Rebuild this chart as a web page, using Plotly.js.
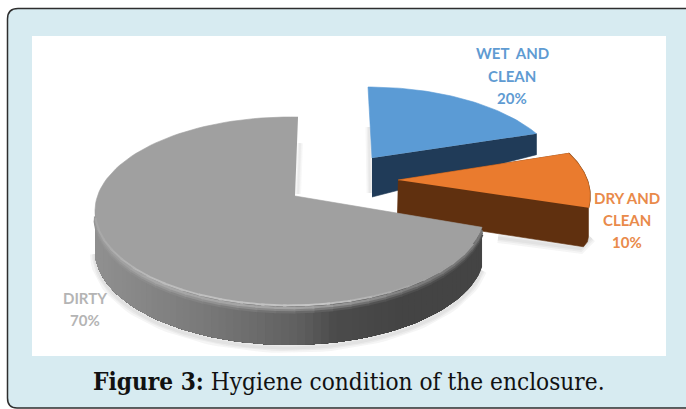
<!DOCTYPE html>
<html><head><meta charset="utf-8">
<script src="https://cdn.plot.ly/plotly-3.0.1.min.js"></script>
<style>html,body{margin:0;padding:0;background:#fff;overflow:hidden}#chart{width:686px;height:409px}
.scatterlayer{filter:blur(.45px)}</style></head>
<body><div id="chart"></div>
<script>
// ---- data ----
const categories = ["WET AND", "DRY AND", "DIRTY"];
const categoryLine2 = ["CLEAN", "CLEAN", ""];
const values = [20, 10, 70];
const faceColors = ["#5b9bd5", "#ea7b2e", "#a0a0a0"];
const wallColors = ["#203b58", "#60300f", "#5f5f5f"];
const labelColors = ["#5f9bd2", "#e98a4a", "#b4b4b4"];
const caption = "<b>Figure 3:</b> Hygiene condition of the enclosure.";

// ---- projection of each exploded slice (geometry, not data) ----
const RX = 195, RY = 94;
const geom = [
  {cx:368, cy:181, apex:[372,158], start:0,   warp:0.83, depth:39},
  {cx:395, cy:196, apex:[398,180], start:63,  warp:0.95, depth:38},
  {cx:290, cy:211, apex:[295,196], start:100, warp:1.0411, depth:40}
];
const labelPos = [[512,[53,76,98]],[627,[198,220,242]],[85,[298,320]]];

const rad = d => d*Math.PI/180;
const px = (g,a) => g.cx + RX*Math.sin(rad(a));
const py = (g,a) => g.cy - RY*Math.cos(rad(a));
const span = i => values[i]*3.6*geom[i].warp;
function arc(g,a0,a1,dy=0,n=60){const X=[],Y=[];for(let k=0;k<=n;k++){const a=a0+(a1-a0)*k/n;X.push(px(g,a));Y.push(py(g,a)+dy);}return [X,Y];}

const hex = c => [1,3,5].map(i=>parseInt(c.substr(i,2),16));
const mix = (a,b,t) => {const A=hex(a),B=hex(b);return "#"+A.map((v,i)=>Math.round(v+(B[i]-v)*t).toString(16).padStart(2,"0")).join("");};
function ramp(stops,x){if(x<=stops[0][0])return stops[0][1];for(let i=1;i<stops.length;i++){if(x<=stops[i][0]){const p=stops[i-1],q=stops[i];return mix(p[1],q[1],(x-p[0])/(q[0]-p[0]));}}return stops[stops.length-1][1];}

const traces=[];
function poly(X,Y,fill,lw){traces.push({type:"scatter",mode:"lines",x:X,y:Y,fill:"toself",fillcolor:fill,line:{color:fill,width:lw===undefined?0.6:lw},hoverinfo:"skip",showlegend:false});}
function stroke(X,Y,color,w){traces.push({type:"scatter",mode:"lines",x:X,y:Y,line:{color:color,width:w},hoverinfo:"skip",showlegend:false});}
function soft(X,Y,k=1,al=0.05){[10*k,6*k,3*k].forEach(w=>stroke(X,Y,"rgba(60,60,60,"+al+")",w));}

// ---- blue slice ----
{const i=0,g=geom[i],a0=g.start,a1=a0+span(i),[X,Y]=arc(g,a0,a1);
 soft([g.apex[0]-3,g.apex[0]-2],[py(g,a0)+40,g.apex[1]+g.depth-4],0.7,0.04);
 const ex=X[X.length-1],ey=Y[Y.length-1];
 poly([g.apex[0],ex,ex,g.apex[0]],[g.apex[1],ey,ey+g.depth-18,g.apex[1]+g.depth],wallColors[i]);
 poly([g.apex[0],...X],[g.apex[1],...Y],faceColors[i]);}

// ---- orange slice ----
{const i=1,g=geom[i],a0=g.start,a1=a0+span(i),[X,Y]=arc(g,a0,a1);
 const ex=X[X.length-1],ey=Y[Y.length-1],d=g.depth;
 soft([g.apex[0]+100,ex-8,ex+3],[g.apex[1]+d+20,ey+d+3,ey+d-8]);
 poly([g.apex[0],...X,ex,ex-1,ex-5,g.apex[0]-1],[g.apex[1],...Y,ey+d-9,ey+d-4,ey+d+1,g.apex[1]+d],wallColors[i]);
 stroke(X,Y,"#8a4a18",1.6);
 poly([g.apex[0],...X],[g.apex[1],...Y],faceColors[i]);}

// ---- grey slice ----
{const i=2,g=geom[i],a0=g.start,a1=a0+span(i),[X,Y]=arc(g,a0,a1,0,120);
 const w=arc(g,a0,270,g.depth+3,60);
 soft(w[0],w[1]);
 soft([g.apex[0]+3,g.apex[0]+5],[g.apex[1]-2,py(g,a1)+26],0.6,0.035);
 const wallStops=[[95,"#909090"],[200,"#7a7a7a"],[300,"#5f5f5f"],[335,"#4b4b4b"],[400,"#444444"],[490,"#444444"]];
 const rimStops=[[95,"#9c9c9c"],[150,"#b0b0b0"],[300,"#b4b4b4"],[370,"#a0a0a0"],[410,"#8c8c8c"],[490,"#808080"]];
 const N=72, ang=k=>a0+(270-a0)*k/N;
 // painter's order on one fixed angular grid: each strip runs to the far end, so no seams show
 for(let k=0;k<N;k++){
   const xm=(px(g,ang(k))+px(g,ang(k+1)))/2, X1=[],Y1=[],X2=[],Y2=[];
   for(let j=k;j<=N;j++){const a=ang(j);X1.push(px(g,a));Y1.push(py(g,a));X2.unshift(px(g,a));Y2.unshift(py(g,a)+g.depth);}
   poly([...X1,...X2],[...Y1,...Y2],ramp(wallStops,xm),0);
 }
 // soft bevel between face and wall: short overlapping strokes, deepest first
 const bevel=[[7,3,0.85],[5,2.6,0.55],[3,2.4,0.2]];
 const M=30, seg=k=>a0+(268-a0)*k/M;
 bevel.forEach(b=>{
   for(let k=0;k<M;k++){
     const A=arc(g,seg(k),seg(k+1)+0.6,b[0],5);
     const xm=(px(g,seg(k))+px(g,seg(k+1)))/2;
     stroke(A[0],A[1],mix(ramp(rimStops,xm),ramp(wallStops,xm),b[2]),b[1]);
   }
 });
 poly([g.apex[0],...X],[g.apex[1],...Y],faceColors[i]);
 // pale highlight along the bevelled front rim
 const hiStops=[[95,"#a6a6a6"],[150,"#bcbcbc"],[320,"#c6c6c6"],[390,"#aaaaaa"],[430,"#a0a0a0"],[490,"#a0a0a0"]];
 for(let k=0;k<24;k++){
   const s=110+(265-110)*k/24,e=110+(265-110)*(k+1)/24+1;
   const A=arc(g,s,e,0.5,6);
   stroke(A[0],A[1],ramp(hiStops,(px(g,s)+px(g,e))/2),2);
 }}

// ---- labels ----
const annotations=[];
categories.forEach((c,i)=>{
  const lines=[c.replace("WET AND","WET&nbsp;&nbsp;AND"),categoryLine2[i],values[i]+"%"].filter(Boolean);
  lines.forEach((t,j)=>annotations.push({x:labelPos[i][0],y:labelPos[i][1][j],xref:"x",yref:"y",text:"<b>"+t+"</b>",showarrow:false,xanchor:"center",yanchor:"middle",font:{family:"Lato, Carlito, sans-serif",size:15,color:labelColors[i]}}));
});
annotations.push({x:349,y:381,xref:"x",yref:"y",text:caption,showarrow:false,xanchor:"center",yanchor:"middle",font:{family:"DejaVu Serif Condensed, DejaVu Serif, serif",size:24.2,color:"#111111"}});

const layout={width:686,height:409,margin:{l:0,r:0,t:0,b:0},paper_bgcolor:"#ffffff",plot_bgcolor:"rgba(0,0,0,0)",showlegend:false,hovermode:false,
 xaxis:{range:[0,686],visible:false,fixedrange:true},
 yaxis:{range:[409,0],visible:false,fixedrange:true},
 shapes:[
  {type:"path",xref:"x",yref:"y",layer:"below",path:"M 700 8.5 L 18 8.5 Q 7.5 8.5 7.5 19 L 7.5 398 Q 7.5 408 17 408 L 700 408 Z",fillcolor:"#d7ebf1",line:{color:"#2e2e2e",width:1.5}},
  {type:"rect",xref:"x",yref:"y",layer:"below",x0:32,x1:666,y0:36,y1:356,fillcolor:"#ffffff",line:{width:0}}
 ],annotations};
Plotly.newPlot("chart",traces,layout,{displayModeBar:false,staticPlot:true});
</script></body></html>
